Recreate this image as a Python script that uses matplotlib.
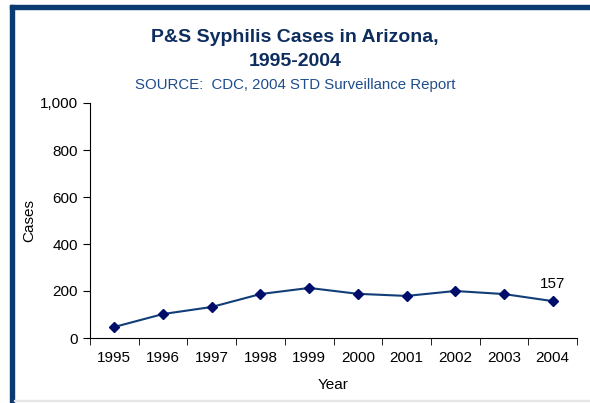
import numpy as np
import matplotlib.pyplot as plt
from matplotlib.patches import Rectangle
from matplotlib.ticker import FuncFormatter

plt.rcParams['font.family'] = ['Liberation Sans', 'DejaVu Sans']

years = ["1995", "1996", "1997", "1998", "1999", "2000", "2001", "2002", "2003", "2004"]
cases = [47, 102, 132, 187, 213, 188, 179, 200, 187, 157]

navy = "#0d2d5e"
fig = plt.figure(figsize=(5.9, 4.03), dpi=100)

# frame around the slide
fig.patches.append(Rectangle((10 / 590, 0), 4 / 590, 1 - 5 / 403, transform=fig.transFigure,
                             color="#0a3a70", zorder=0))
fig.patches.append(Rectangle((10 / 590, 1 - 9 / 403), 1, 4 / 403, transform=fig.transFigure,
                             color="#0a3a70", zorder=0))
fig.patches.append(Rectangle((14 / 590, 2 / 403), 1, 1.5 / 403, transform=fig.transFigure,
                             color="#e6e6e6", zorder=0))

ax = fig.add_axes([90 / 590, 65 / 403, 487 / 590, 235 / 403])
x = np.arange(len(years))
ax.plot(x, cases, color="#123e78", lw=1.5, marker="D", markersize=5,
        markerfacecolor="#000d6b", markeredgecolor="#000d6b")
ax.annotate(str(cases[-1]), (x[-1], cases[-1]), xytext=(0, 7), textcoords="offset points",
            ha="center", va="bottom", fontsize=11)

ax.set_xlim(-0.5, len(years) - 0.5)
ax.set_ylim(0, 1000)
ax.set_yticks(range(0, 1001, 200))
ax.yaxis.set_major_formatter(FuncFormatter(lambda v, p: f"{int(v):,}"))
ax.set_xticks(x)
ax.set_xticklabels(years)
ax.set_xticks(np.arange(-0.5, len(years), 1), minor=True)
ax.tick_params(axis="x", which="major", length=0, pad=9, labelsize=11)
ax.tick_params(axis="x", which="minor", length=5, direction="out")
ax.tick_params(axis="y", length=5, direction="out", labelsize=11)
for s in ["top", "right"]:
    ax.spines[s].set_visible(False)
ax.set_xlabel("Year", fontsize=11, labelpad=10)
ax.set_ylabel("Cases", fontsize=11, labelpad=3)

fig.text(0.5, 1 - 38 / 403, "P&S Syphilis Cases in Arizona,", ha="center", va="center",
         fontsize=14, fontweight="bold", color=navy)
fig.text(0.5, 1 - 61 / 403, "1995-2004", ha="center", va="center",
         fontsize=14, fontweight="bold", color=navy)
fig.text(0.5, 1 - 85 / 403, "SOURCE:  CDC, 2004 STD Surveillance Report", ha="center",
         va="center", fontsize=10.8, color="#1f4e8c")

fig.savefig("out.png", dpi=100)
